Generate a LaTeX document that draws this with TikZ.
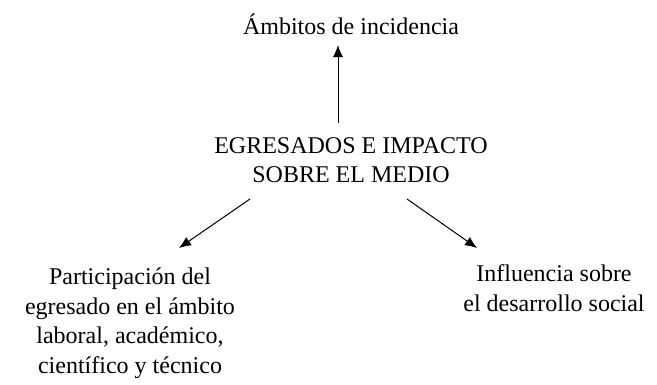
\documentclass[tikz,border=0pt]{standalone}
\usepackage{fontspec}
\setmainfont{Liberation Serif}
\usetikzlibrary{arrows.meta, positioning}

\begin{document}
\begin{tikzpicture}[x=1pt, y=-1pt, >={Latex[length=12pt, width=10pt]}, line width=1pt,
  label/.style={align=center, inner sep=0pt, font=\fontsize{24}{29.5}\selectfont}]
  \useasboundingbox (0,0) rectangle (657,384);

  \node[label] (ambitos) at (351,24) {Ámbitos de incidencia};
  \node[label] (egresados) at (351,160) {EGRESADOS E IMPACTO\\SOBRE EL MEDIO};
  \node[label] (participacion) at (130,323) {Participación del\\egresado en el ámbito\\laboral, académico,\\científico y técnico};
  \node[label] (influencia) at (554,288) {Influencia sobre\\el desarrollo social};

  \coordinate (up-from) at (338,123);
  \coordinate (up-to) at (338,45);
  \coordinate (left-from) at (250,199);
  \coordinate (left-to) at (179,248);
  \coordinate (right-from) at (407,199);
  \coordinate (right-to) at (477,248);

  \draw[->] (up-from) -- (up-to);
  \draw[->] (left-from) -- (left-to);
  \draw[->] (right-from) -- (right-to);
\end{tikzpicture}
\end{document}
